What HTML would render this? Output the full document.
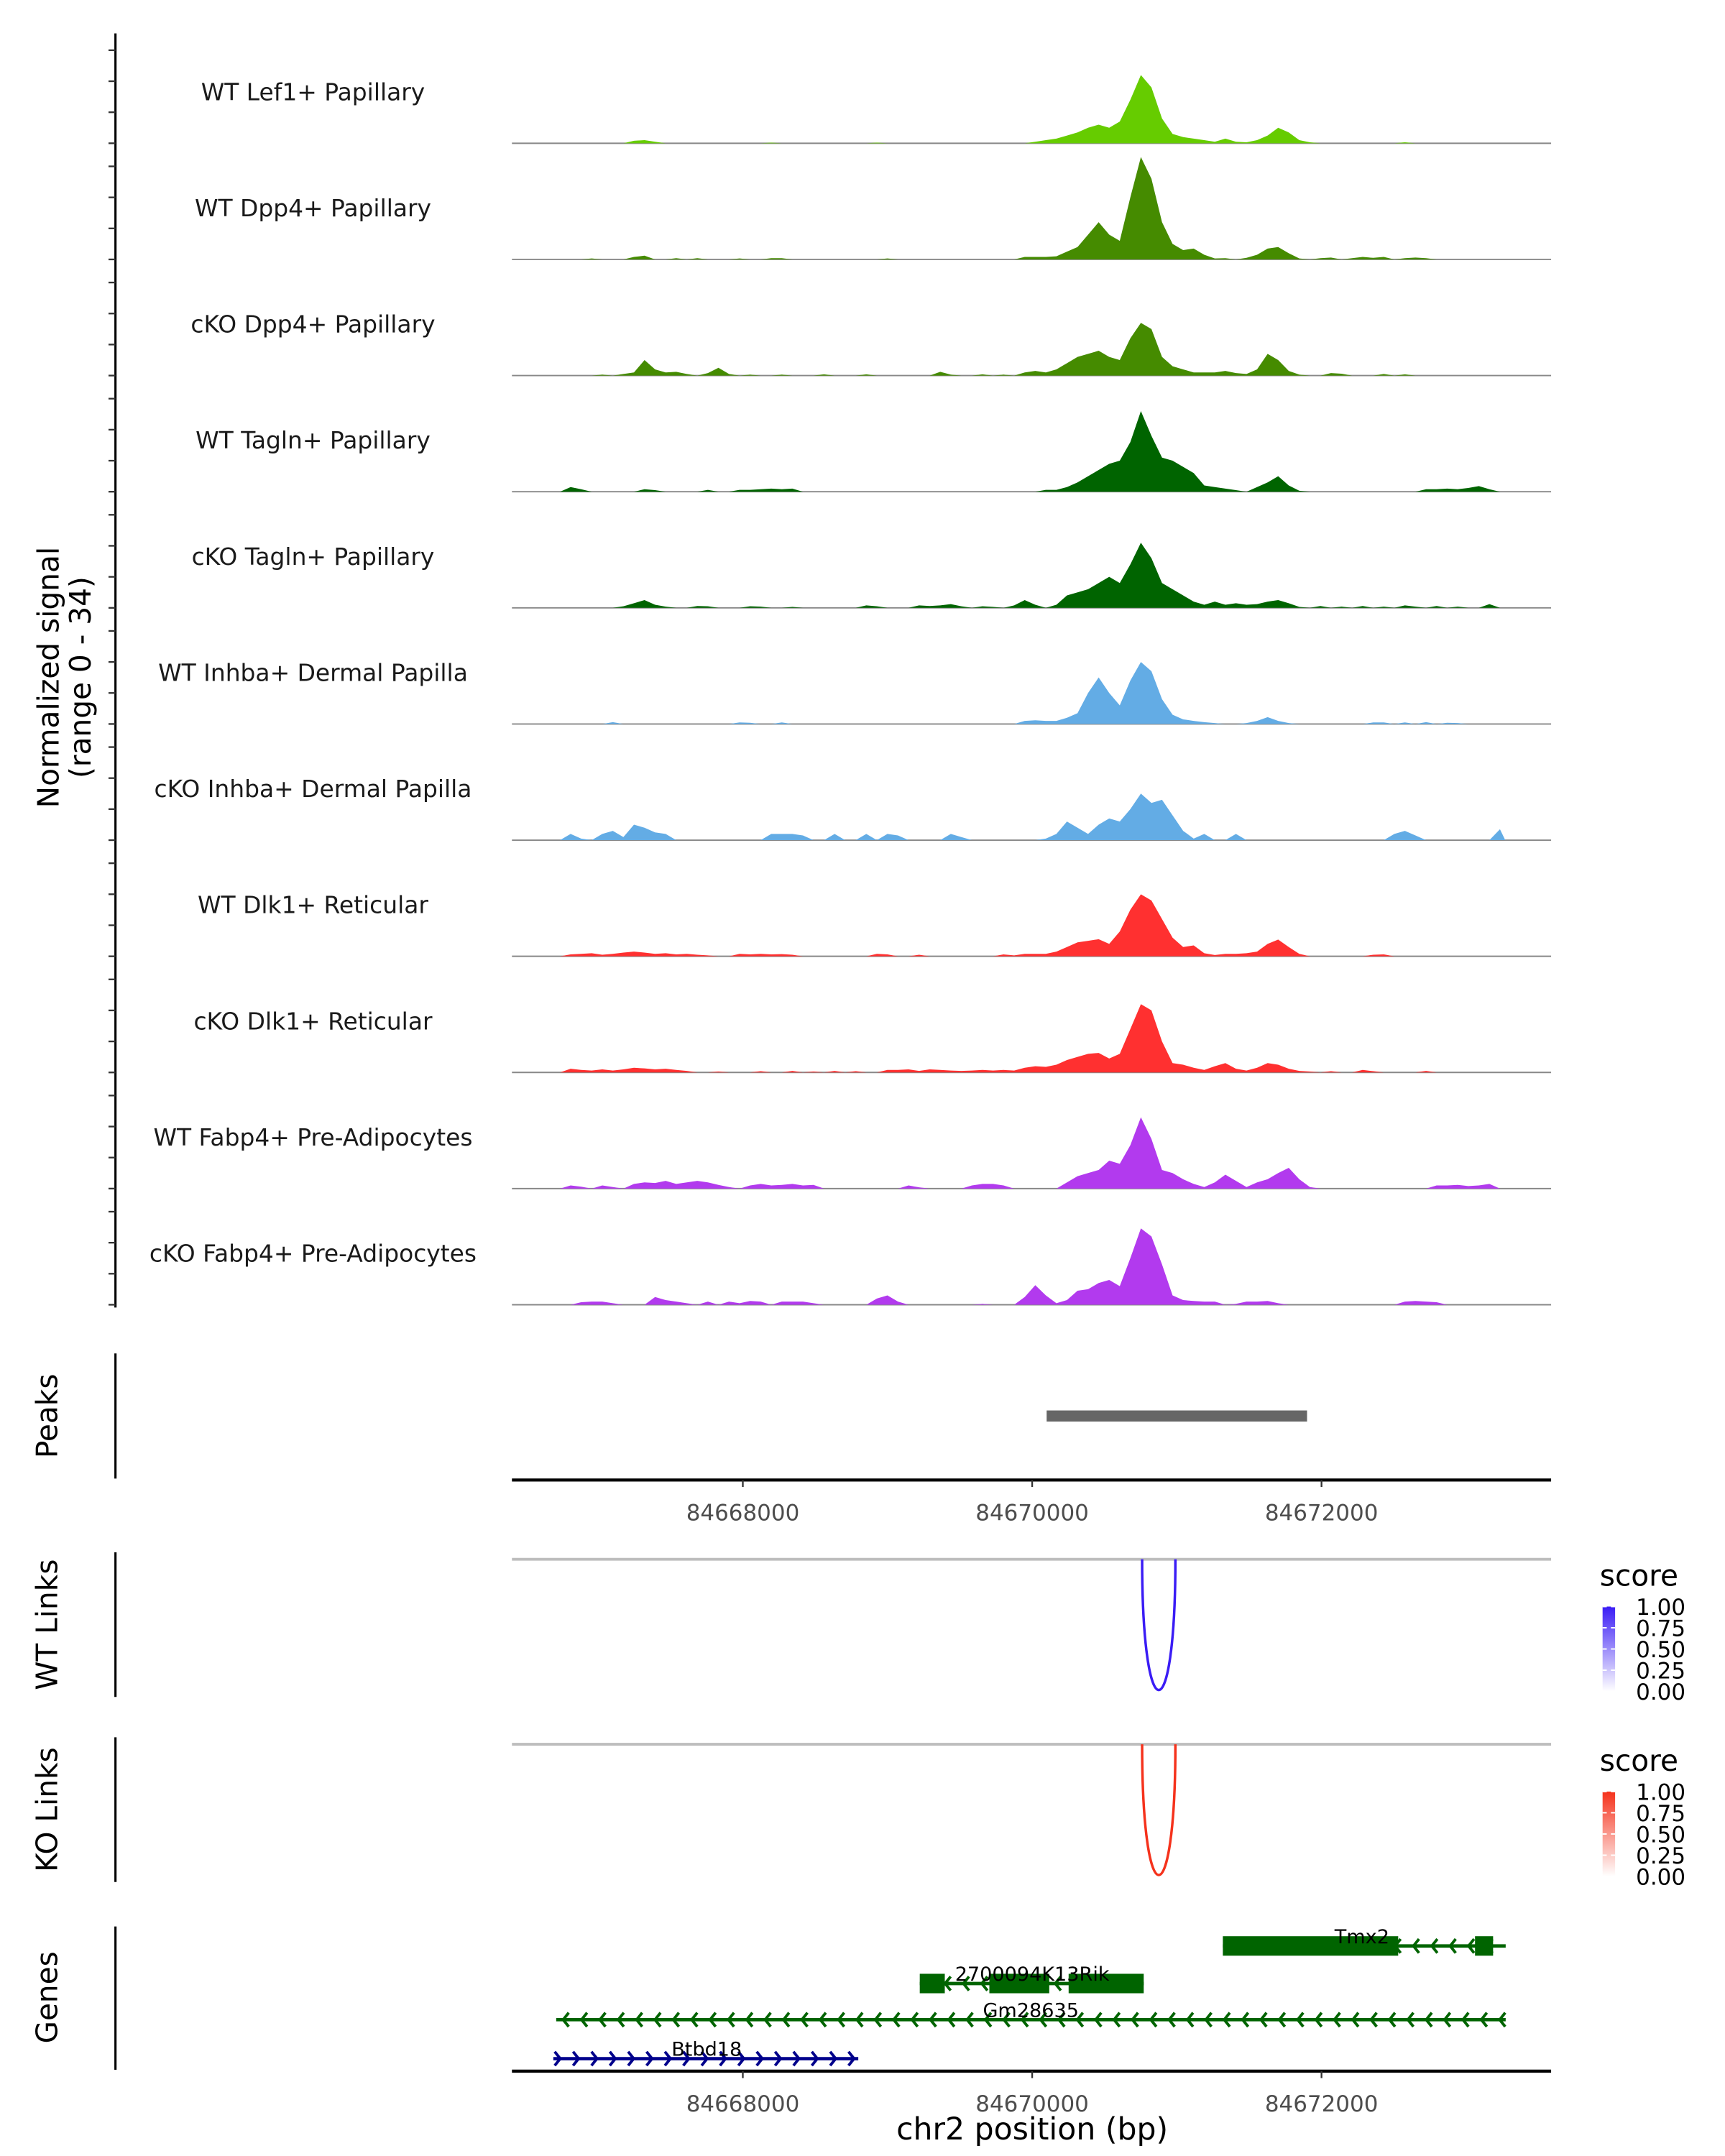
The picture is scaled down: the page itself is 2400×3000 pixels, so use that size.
<!DOCTYPE html>
<html><head><meta charset="utf-8"><style>
html,body{margin:0;padding:0;background:#fff;}
svg{display:block;font-family:"DejaVu Sans","Liberation Sans",sans-serif;}
</style></head><body>
<svg id="chart" width="2400" height="3000" viewBox="0 0 1240 1550" preserveAspectRatio="none" xmlns="http://www.w3.org/2000/svg">
<g id="g"></g>
</svg>
<script>
// ---- data ----
const trackNames = ["WT Lef1+ Papillary","WT Dpp4+ Papillary","cKO Dpp4+ Papillary","WT Tagln+ Papillary","cKO Tagln+ Papillary","WT Inhba+ Dermal Papilla","cKO Inhba+ Dermal Papilla","WT Dlk1+ Reticular","cKO Dlk1+ Reticular","WT Fabp4+ Pre-Adipocytes","cKO Fabp4+ Pre-Adipocytes"];
const trackColors = ["#66cc00","#458b00","#458b00","#006400","#006400","#63ace5","#63ace5","#ff3030","#ff3030","#b23aee","#b23aee"];
const binStart = 84666700;
const binSize = 73;
const yMax = 34;
const yTicks = [0,10,20,30];
// series: [binIndex, value]
const sLef1 = [[7,0.8],[8,1],[9,0.5],[20,0.2],[30,0.2],[45,0.5],[46,1],[47,1.5],[48,2.5],[49,3.5],[50,5],[51,6],[52,5],[53,7],[54,14],[55,22],[56,18],[57,8],[58,3],[59,2],[60,1.5],[61,1],[62,0.5],[63,1.5],[64,0.5],[65,0.3],[66,1],[67,2.5],[68,5],[69,3.5],[70,1],[71,0.3],[80,0.3]];
const sDpp4WT = [[3,0.3],[7,0.8],[8,1.2],[11,0.4],[13,0.4],[17,0.3],[20,0.4],[21,0.4],[31,0.3],[44,0.8],[45,0.8],[46,0.8],[47,1],[48,2.5],[49,4],[50,8],[51,12],[52,8],[53,6],[54,20],[55,33],[56,26],[57,12],[58,5],[59,3],[60,3.5],[61,1.5],[62,0.3],[63,0.4],[65,0.5],[66,1.5],[67,3.5],[68,4],[69,2],[70,0.3],[72,0.4],[73,0.6],[75,0.4],[76,0.8],[77,0.5],[78,0.8],[80,0.4],[81,0.6],[82,0.4]];
const sDpp4KO = [[4,0.3],[6,0.5],[7,1],[8,5],[9,2],[10,1],[11,1.2],[12,0.5],[14,0.8],[15,2.5],[16,0.5],[18,0.3],[21,0.3],[25,0.4],[29,0.4],[36,1.2],[37,0.3],[40,0.4],[42,0.3],[44,1],[45,1.5],[46,1],[47,2],[48,4],[49,6],[50,7],[51,8],[52,6],[53,5],[54,12],[55,17],[56,15],[57,6],[58,3],[59,2],[60,1],[61,1],[62,1],[63,1.5],[64,0.8],[65,0.5],[66,2],[67,7],[68,5],[69,1.5],[70,0.3],[73,0.8],[74,0.6],[78,0.5],[80,0.4]];
const sTaglnWT = [[1,1.5],[2,0.8],[8,0.8],[9,0.5],[14,0.6],[17,0.6],[18,0.6],[19,0.8],[20,1],[21,0.8],[22,1],[46,0.6],[47,0.6],[48,1.5],[49,3],[50,5],[51,7],[52,9],[53,10],[54,16],[55,26],[56,18],[57,11],[58,10],[59,8],[60,6],[61,2],[62,1.5],[63,1],[64,0.5],[66,1.5],[67,3],[68,5],[69,2],[70,0.3],[82,0.8],[83,0.8],[84,1],[85,0.8],[86,1.2],[87,1.8],[88,0.8]];
const sTaglnKO = [[6,0.5],[7,1.5],[8,2.5],[9,1],[10,0.4],[13,0.6],[14,0.5],[18,0.5],[19,0.4],[22,0.3],[29,0.8],[30,0.5],[34,0.8],[35,0.6],[36,0.8],[37,1.2],[38,0.5],[40,0.5],[41,0.3],[43,0.8],[44,2.5],[45,1],[47,1],[48,4],[49,5],[50,6],[51,8],[52,10],[53,8],[54,14],[55,21],[56,16],[57,8],[58,6],[59,4],[60,2],[61,1],[62,2],[63,1],[64,1.5],[65,1],[66,1.2],[67,2],[68,2.5],[69,1.5],[70,0.3],[72,0.6],[74,0.4],[76,0.6],[78,0.4],[80,0.8],[81,0.4],[83,0.6],[85,0.4],[88,1.2]];
const sInhbaWT = [[5,0.6],[17,0.5],[18,0.4],[21,0.5],[44,1],[45,1.2],[46,1],[47,1],[48,2],[49,3.5],[50,10],[51,15],[52,10],[53,6],[54,14],[55,20],[56,17],[57,8],[58,3],[59,1.5],[60,1],[61,0.6],[62,0.3],[65,0.3],[66,1],[67,2.2],[68,1],[69,0.3],[77,0.5],[78,0.5],[80,0.5],[82,0.6],[84,0.4],[85,0.3]];
const sInhbaKO = [[1,2],[2,0.5],[4,2],[5,3],[6,1],[7,5],[8,4],[9,2.5],[10,2],[20,2],[21,2],[22,2],[23,1.5],[26,2],[29,2],[31,2],[32,1.5],[37,2],[38,1],[46,0.5],[47,2],[48,6],[49,4],[50,2],[51,5],[52,7],[53,6],[54,10],[55,15],[56,12],[57,13],[58,8],[59,3],[60,0.5],[61,2],[64,2],[79,2],[80,3],[81,1.5],[89,3.5]];
const sDlk1WT = [[1,0.6],[2,0.8],[3,1],[4,0.5],[5,0.8],[6,1.2],[7,1.5],[8,1.2],[9,0.8],[10,1],[11,0.6],[12,0.8],[13,0.5],[14,0.3],[17,0.8],[18,0.6],[19,0.8],[20,0.6],[21,0.7],[22,0.5],[30,0.8],[31,0.6],[34,0.5],[42,0.6],[43,0.3],[44,0.8],[45,0.8],[46,0.8],[47,1.5],[48,3],[49,4.5],[50,5],[51,5.5],[52,4],[53,8],[54,15],[55,20],[56,18],[57,12],[58,6],[59,3],[60,3.5],[61,1],[62,0.4],[63,0.8],[64,0.8],[65,1],[66,1.5],[67,4],[68,5.4],[69,3],[70,0.8],[77,0.5],[78,0.6]];
const sDlk1KO = [[1,1.2],[2,0.8],[3,0.6],[4,1],[5,0.6],[6,1],[7,1.5],[8,1.3],[9,1],[10,1.2],[11,0.8],[12,0.5],[15,0.3],[19,0.4],[22,0.5],[24,0.3],[26,0.5],[28,0.4],[31,0.8],[32,0.8],[33,1],[34,0.5],[35,1],[36,0.8],[37,0.6],[38,0.5],[39,0.6],[40,0.8],[41,0.6],[42,0.8],[43,0.6],[44,1.5],[45,2],[46,1.8],[47,2.5],[48,4],[49,5],[50,6],[51,6.3],[52,4.5],[53,6],[54,14],[55,22],[56,20],[57,10],[58,3],[59,2.5],[60,1.5],[61,0.8],[62,2],[63,3],[64,1.2],[65,0.6],[66,1.5],[67,3],[68,2.5],[69,1.2],[70,0.5],[71,0.3],[73,0.4],[76,0.8],[77,0.4],[82,0.5]];
const sFabp4WT = [[1,1],[2,0.6],[4,1],[5,0.5],[7,1.5],[8,2],[9,1.8],[10,2.5],[11,1.5],[12,2],[13,2.5],[14,2],[15,1.2],[16,0.5],[18,1],[19,1.5],[20,1],[21,1.2],[22,1.5],[23,1],[24,1.2],[33,1],[34,0.4],[39,1],[40,1.5],[41,1.5],[42,1],[48,2],[49,4],[50,5],[51,6],[52,9],[53,8],[54,14],[55,23],[56,16],[57,6],[58,5],[59,3],[60,1.5],[61,0.5],[62,2],[63,4.5],[64,2.5],[65,0.5],[66,2],[67,3],[68,5],[69,6.7],[70,3],[71,0.5],[83,1],[84,1],[85,1.2],[86,0.8],[87,1],[88,1.5]];
const sFabp4KO = [[2,0.8],[3,1],[4,1],[5,0.5],[9,2.5],[10,1.5],[11,1],[12,0.5],[14,1],[16,1],[17,0.5],[18,1.2],[19,1],[21,1],[22,1],[23,1],[24,0.5],[30,2],[31,3],[32,1],[40,0.3],[44,2.5],[45,6.3],[46,3],[47,0.5],[48,1.5],[49,4.5],[50,5],[51,7],[52,8],[53,6],[54,15],[55,24.6],[56,22],[57,13],[58,3],[59,1.5],[60,1.2],[61,1],[62,1],[64,0.3],[65,1],[66,1],[67,1.2],[68,0.5],[80,1],[81,1.2],[82,1],[83,0.8]];
const allSeries = [sLef1,sDpp4WT,sDpp4KO,sTaglnWT,sTaglnKO,sInhbaWT,sInhbaKO,sDlk1WT,sDlk1KO,sFabp4WT,sFabp4KO];
const xTicks = [84668000,84670000,84672000];
const peakRegions = [[84670100,84671900]];
const wtLinks = [[84670760,84670990,1.0]];
const koLinks = [[84670760,84670990,1.0]];
const legendTicks = ["1.00","0.75","0.50","0.25","0.00"];

// ---- scales ----
const X0 = 368, X1 = 1115;
const bpLeft = 84666404, bpRight = 84673587;
function xs(bp){ return X0 + (bp-bpLeft)/(bpRight-bpLeft)*(X1-X0); }
const trackBase0 = 103, trackStep = 83.5;
const pxPerUnit = 2.23;
function ys(v, t){ return trackBase0 + t*trackStep - v*pxPerUnit; }

const NS = "http://www.w3.org/2000/svg";
const G = document.getElementById('g');
function mk(tag, attrs, parent){ const e=document.createElementNS(NS,tag); for(const k in attrs) e.setAttribute(k,attrs[k]); (parent||G).appendChild(e); return e; }

// left signal axis
let ax = mk('line',{x1:83,y1:24,x2:83,y2:940,stroke:'#000','stroke-width':1.6});


for(let t=0;t<trackNames.length;t++){
  yTicks.forEach(v=>{
    const y=ys(v,t);
    const tk=mk('line',{x1:78,y1:y,x2:83,y2:y,stroke:'#333','stroke-width':1.2});
    
    
  });
}
let yt = mk('text',{x:0,y:0,'font-size':21,'text-anchor':'middle',fill:'#000',transform:'translate(42,487) rotate(-90)'});


yt.innerHTML='<tspan x="0" dy="0">Normalized signal</tspan><tspan x="0" dy="23">(range 0 - 34)</tspan>';

// tracks
for(let t=0;t<trackNames.length;t++){
  const base=ys(0,t);
  const lbl=mk('text',{x:225,y:base-31,'font-size':17,'text-anchor':'middle',fill:'#1a1a1a'});
  
  
  lbl.textContent=trackNames[t];
  const bl=mk('line',{x1:X0,y1:base,x2:X1,y2:base,stroke:'#888','stroke-width':1});
  
  
  const vals=new Array(90).fill(0);
  allSeries[t].forEach(p=>{vals[p[0]]=p[1];});
  let d='M'+xs(binStart)+','+base;
  for(let i=0;i<vals.length;i++){
    const xc=xs(binStart+(i+0.5)*binSize), y=ys(vals[i],t);
    d+=' L'+xc+','+y;
  }
  d+=' L'+xs(binStart+vals.length*binSize)+','+base+' Z';
  const ar=mk('path',{d:d,fill:trackColors[t],stroke:'none'});
  
  
}

// Peaks panel
let pa=mk('line',{x1:83,y1:973,x2:83,y2:1063,stroke:'#000','stroke-width':1.6});


let pt=mk('text',{x:0,y:0,'font-size':21,'text-anchor':'middle',transform:'translate(41,1018) rotate(-90)'});


pt.textContent='Peaks';
peakRegions.forEach(r=>{
  const rc=mk('rect',{x:xs(r[0]),y:1014,width:xs(r[1])-xs(r[0]),height:8,fill:'#666'});
  
  
});
function xAxis(y, nm){
  const l=mk('line',{x1:X0,y1:y,x2:X1,y2:y,stroke:'#000','stroke-width':2.2});
  
  
  xTicks.forEach(b=>{
    const tk=mk('line',{x1:xs(b),y1:y,x2:xs(b),y2:y+5,stroke:'#333','stroke-width':1.2});
    
    
    const tl=mk('text',{x:xs(b),y:y+29,'font-size':16,'text-anchor':'middle',fill:'#4d4d4d'});
    
    
    tl.textContent=String(b);
  });
}
xAxis(1064,'peaks-x-axis');

// Links panels
function linksPanel(top, title, links, color, nm){
  const a=mk('line',{x1:83,y1:top-5,x2:83,y2:top+99,stroke:'#000','stroke-width':1.6});
  
  
  const tt=mk('text',{x:0,y:0,'font-size':21,'text-anchor':'middle',transform:'translate(41,'+(top+47)+') rotate(-90)'});
  
  
  tt.textContent=title;
  const gl=mk('line',{x1:X0,y1:top,x2:X1,y2:top,stroke:'#bdbdbd','stroke-width':2});
  
  
  links.forEach(k=>{
    const xa=xs(k[0]), xb=xs(k[1]), depth=94*k[2];
    const cy=top+(depth)/0.75;
    const p=mk('path',{d:'M'+xa+','+top+' C'+xa+','+cy+' '+xb+','+cy+' '+xb+','+top,fill:'none',stroke:color,'stroke-width':1.8});
    
    
  });
  const st=mk('text',{x:1150,y:top+19,'font-size':21,fill:'#000'});
  
  
  st.textContent='score';
  const gid='grad'+nm;
  const defs=mk('defs',{});
  const lg=mk('linearGradient',{id:gid,x1:0,y1:0,x2:0,y2:1},defs);
  mk('stop',{offset:0,'stop-color':color},lg);
  mk('stop',{offset:1,'stop-color':'#ffffff'},lg);
  const cb=mk('rect',{x:1152,y:top+34,width:9,height:61,fill:'url(#'+gid+')'});
  
  
  legendTicks.forEach((s,i)=>{
    const y=top+34+i*15.25;
    const tl=mk('text',{x:1176,y:y+6,'font-size':16,fill:'#000'});
    
    
    tl.textContent=s;
    mk('line',{x1:1152,y1:y,x2:1155,y2:y,stroke:'#fff','stroke-width':1});
    mk('line',{x1:1158,y1:y,x2:1161,y2:y,stroke:'#fff','stroke-width':1});
  });
}
linksPanel(1121,'WT Links',wtLinks,'#3a1cf5','wt-links');
linksPanel(1254,'KO Links',koLinks,'#f5321c','ko-links');

// Genes panel
let ga=mk('line',{x1:83,y1:1385,x2:83,y2:1488,stroke:'#000','stroke-width':1.6});


let gt=mk('text',{x:0,y:0,'font-size':21,'text-anchor':'middle',transform:'translate(41,1436) rotate(-90)'});


gt.textContent='Genes';
const genes=[
  {name:'Tmx2',y:1399,start:84671318,end:84673273,strand:-1,exons:[[84671318,84672530],[84673061,84673186]],color:'#006400',lx:979},
  {name:'2700094K13Rik',y:1426,start:84669223,end:84670771,strand:-1,exons:[[84669223,84669396],[84669704,84670118],[84670252,84670771]],color:'#006400',lx:742},
  {name:'Gm28635',y:1452,start:84666710,end:84673273,strand:-1,exons:[],color:'#006400',lx:741},
  {name:'Btbd18',y:1480,start:84666690,end:84668798,strand:1,exons:[],color:'#00008b',lx:508}
];
genes.forEach(g=>{
  const grp=mk('g',{});
  
  
  const x1=xs(g.start), x2=xs(g.end);
  mk('line',{x1:x1,y1:g.y,x2:x2,y2:g.y,stroke:g.color,'stroke-width':2.4},grp);
  for(let x=x1+5;x<x2-3;x+=13.2){
    const dx=g.strand<0?4:-4;
    mk('polyline',{points:(x+dx)+','+(g.y-5)+' '+x+','+g.y+' '+(x+dx)+','+(g.y+5),fill:'none',stroke:g.color,'stroke-width':2},grp);
  }
  g.exons.forEach(e=>{
    mk('rect',{x:xs(e[0]),y:g.y-7,width:xs(e[1])-xs(e[0]),height:14,fill:g.color},grp);
  });
  const tl=mk('text',{x:g.lx,y:g.y-2,'font-size':14,'text-anchor':'middle',fill:'#000'},grp);
  tl.textContent=g.name;
});
xAxis(1489,'genes-x-axis');
let xt=mk('text',{x:742,y:1538,'font-size':22,'text-anchor':'middle',fill:'#000'});


xt.textContent='chr2 position (bp)';
</script>
</body></html>
